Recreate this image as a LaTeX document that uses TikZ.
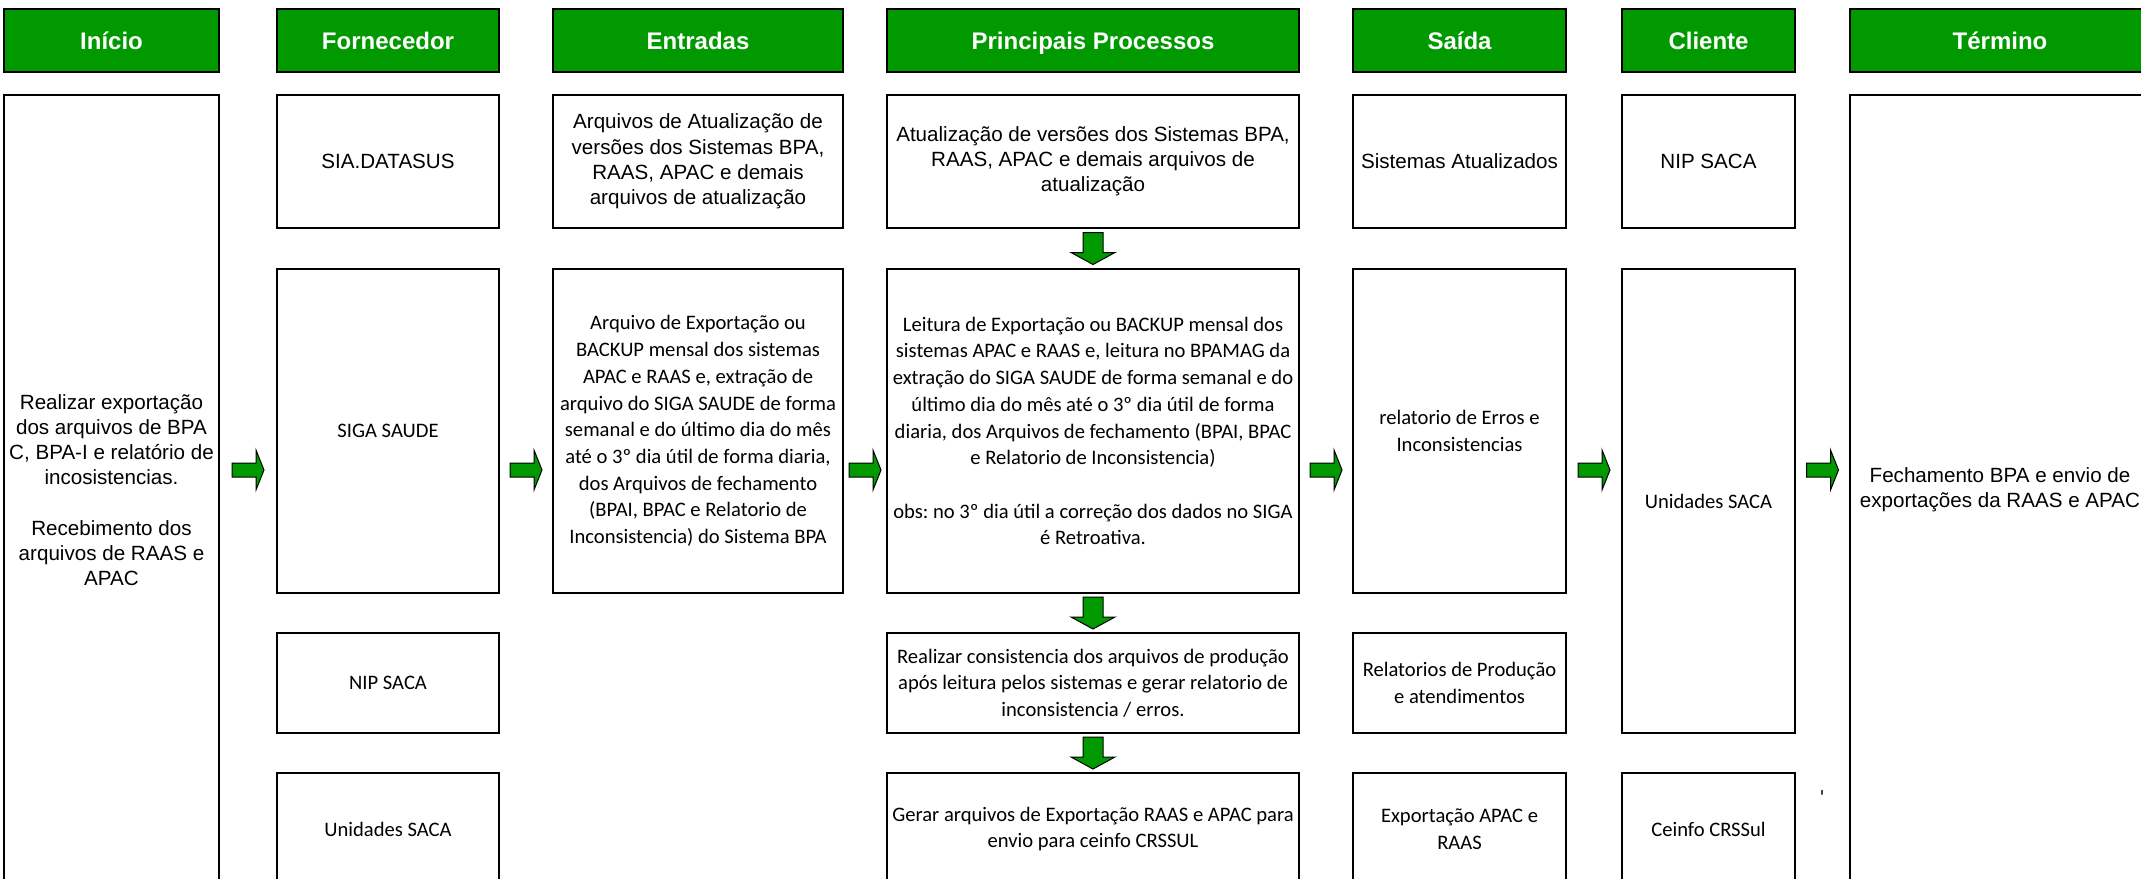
\documentclass[tikz,border=0pt]{standalone}
\usepackage{fontspec}
\newfontfamily\arialfont{Liberation Sans}
\newfontfamily\calfont{Carlito}
\usetikzlibrary{calc}
\definecolor{procgreen}{RGB}{0,153,0}
\frenchspacing
\tikzset{
    rarr/.pic={\draw[fill=procgreen, line width=0.5pt] (-16,-7) -- (8,-7) -- (8,-20) -- (16,0) -- (8,20) -- (8,7) -- (-16,7) -- cycle;},
    darr/.pic={\draw[fill=procgreen, line width=0.5pt] (-10,-16) -- (10,-16) -- (10,4) -- (22,4) -- (0,16) -- (-22,4) -- (-10,4) -- cycle;}
}

\begin{document}
\begin{tikzpicture}[x=0.5pt, y=-0.5pt]
        \tikzstyle{every node}=[line width=1pt, inner sep=1pt, align=center]
        \tikzstyle{hdr}=[draw, fill=procgreen, text=white, font=\arialfont\bfseries\fontsize{12}{14}\selectfont, minimum height=31.5pt, text height=11.2pt, text depth=2.6pt]
        \tikzstyle{arial box}=[draw, font=\arialfont\fontsize{10.3}{12.6}\selectfont]
        \tikzstyle{cal box}=[draw, font=\calfont\fontsize{10.3}{13.35}\selectfont]
        \path[use as bounding box, clip] (0,0) rectangle (2141,878);
        \node [hdr, minimum width=107.5pt] (hini) at (111.5,40.5) {Início};
        \node [hdr, minimum width=111pt] (hforn) at (388,40.5) {Fornecedor};
        \node [hdr, minimum width=145pt] (hent) at (698,40.5) {Entradas};
        \node [hdr, minimum width=206pt] (hproc) at (1093,40.5) {Principais Processos};
        \node [hdr, minimum width=106.5pt] (hsai) at (1459.5,40.5) {Saída};
        \node [hdr, minimum width=86.5pt] (hcli) at (1708.5,40.5) {Cliente};
        \node [hdr, minimum width=150pt] (hter) at (2000,40.5) {Término};
        \node [arial box, minimum width=107.5pt, minimum height=395pt] (ini) at (111.5,490) {Realizar exportação\\dos arquivos de BPA\\C, BPA-I e relatório de\\incosistencias.\\[12.6pt]Recebimento dos\\arquivos de RAAS e\\APAC};
        \node [arial box, minimum width=111pt, minimum height=66.5pt] (forn1) at (388,161.5) {SIA.DATASUS};
        \node [cal box, minimum width=111pt, minimum height=162pt] (forn2) at (388,431) {SIGA SAUDE};
        \node [cal box, minimum width=111pt, minimum height=50pt] (forn3) at (388,683) {NIP SACA};
        \node [cal box, minimum width=111pt, minimum height=56pt] (forn4) at (388,829) {Unidades SACA};
        \node [arial box, minimum width=145pt, minimum height=66.5pt] (ent1) at (698,161.5) {Arquivos de Atualização de\\versões dos Sistemas BPA,\\RAAS, APAC e demais\\arquivos de atualização};
        \node [cal box, minimum width=145pt, minimum height=162pt] (ent2) at (698,431) {Arquivo de Exportação ou\\BACKUP mensal dos sistemas\\APAC e RAAS e, extração de\\arquivo do SIGA SAUDE de forma\\semanal e do último dia do mês\\até o 3º dia útil de forma diaria,\\dos Arquivos de fechamento\\(BPAI, BPAC e Relatorio de\\Inconsistencia) do Sistema BPA};
        \node [arial box, minimum width=206pt, minimum height=66.5pt] (proc1) at (1093,161.5) {Atualização de versões dos Sistemas BPA,\\RAAS, APAC e demais arquivos de\\atualização};
        \node [cal box, minimum width=206pt, minimum height=162pt] (proc2) at (1093,431) {Leitura de Exportação ou BACKUP mensal dos\\sistemas APAC e RAAS e, leitura no BPAMAG da\\extração do SIGA SAUDE de forma semanal e do\\último dia do mês até o 3º dia útil de forma\\diaria, dos Arquivos de fechamento (BPAI, BPAC\\e Relatorio de Inconsistencia)\\[13.35pt]obs: no 3º dia útil a correção dos dados no SIGA\\é Retroativa.};
        \node [cal box, minimum width=206pt, minimum height=50pt] (proc3) at (1093,683) {Realizar consistencia dos arquivos de produção\\após leitura pelos sistemas e gerar relatorio de\\inconsistencia / erros.};
        \node [cal box, minimum width=206pt, minimum height=56pt] (proc4) at (1093,829) {Gerar arquivos de Exportação RAAS e APAC para\\envio para ceinfo CRSSUL};
        \node [arial box, minimum width=106.5pt, minimum height=66.5pt] (sai1) at (1459.5,161.5) {Sistemas Atualizados};
        \node [cal box, minimum width=106.5pt, minimum height=162pt] (sai2) at (1459.5,431) {relatorio de Erros e\\Inconsistencias};
        \node [cal box, minimum width=106.5pt, minimum height=50pt] (sai3) at (1459.5,683) {Relatorios de Produção\\e atendimentos};
        \node [cal box, minimum width=106.5pt, minimum height=56pt] (sai4) at (1459.5,829) {Exportação APAC e\\RAAS};
        \node [arial box, minimum width=86.5pt, minimum height=66.5pt] (cli1) at (1708.5,161.5) {NIP SACA};
        \node [cal box, minimum width=86.5pt, minimum height=232pt] (cli2) at (1708.5,501) {Unidades SACA};
        \node [cal box, minimum width=86.5pt, minimum height=56pt] (cli4) at (1708.5,829) {Ceinfo CRSSul};
        \node [arial box, minimum width=150pt, minimum height=395pt] (ter) at (2000,490) {Fechamento BPA e envio de\\exportações da RAAS e APAC};
        \node [font=\calfont\fontsize{10.3}{12}\selectfont, inner sep=0pt] (tick) at (1822,798) {\textquotesingle};
        \coordinate (mid) at (0,470);
        \pic at ($(ini.east |- mid)!0.5!(forn2.west |- mid)$) {rarr};
        \pic at ($(forn2.east |- mid)!0.5!(ent2.west |- mid)$) {rarr};
        \pic at ($(ent2.east |- mid)!0.5!(proc2.west |- mid)$) {rarr};
        \pic at ($(proc2.east |- mid)!0.5!(sai2.west |- mid)$) {rarr};
        \pic at ($(sai2.east |- mid)!0.5!(cli2.west |- mid)$) {rarr};
        \pic at ($(cli2.east |- mid)!0.5!(ter.west |- mid)$) {rarr};
        \pic at ($(proc1.south)!0.5!(proc2.north)$) {darr};
        \pic at ($(proc2.south)!0.5!(proc3.north)$) {darr};
        \pic at ($(proc3.south)!0.5!(proc4.north)$) {darr};
    \end{tikzpicture}
\end{document}
